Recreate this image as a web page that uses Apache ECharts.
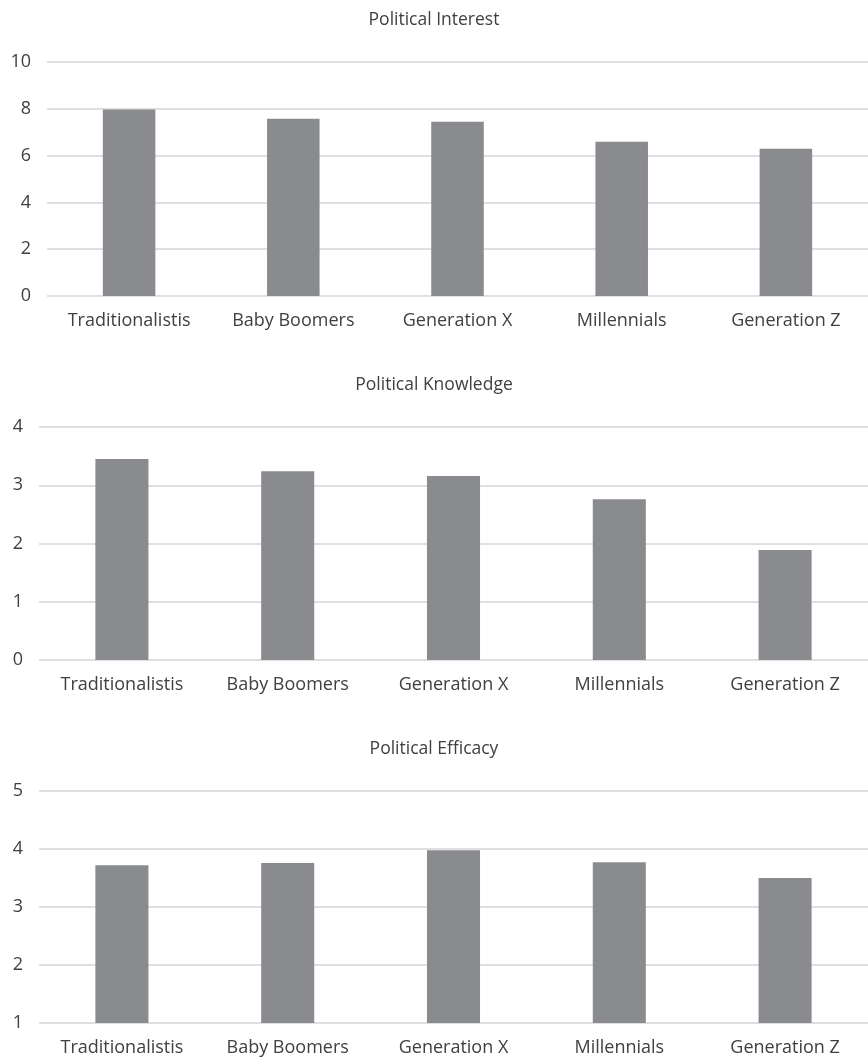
<!DOCTYPE html>
<html><head><meta charset="utf-8">
<script src="https://cdn.jsdelivr.net/npm/echarts@6/dist/echarts.min.js"></script>
<style>html,body{margin:0;padding:0;background:#fff}#c{width:868px;height:1057px}</style>
</head><body><div id="c"></div>
<script>
const categories = ["Traditionalistis", "Baby Boomers", "Generation X", "Millennials", "Generation Z"];
const chartTitles = ["Political Interest", "Political Knowledge", "Political Efficacy"];
const interest = [7.97, 7.58, 7.45, 6.59, 6.29];
const knowledge = [3.45, 3.24, 3.16, 2.76, 1.89];
const efficacy = [3.72, 3.76, 3.98, 3.77, 3.50];
const yMin = [0, 0, 1];
const yMax = [10, 4, 5];
const yStep = [2, 1, 1];
const seriesData = [interest, knowledge, efficacy];

const FONT = "Open Sans";
const TXT = "#404040";
const grids = [
  {left: 47, width: 826, top: 62, height: 234},
  {left: 39, width: 835, top: 427, height: 233},
  {left: 39, width: 835, top: 791, height: 233}
];
const chart = echarts.init(document.getElementById('c'));
chart.setOption({
  animation: false,
  backgroundColor: '#fff',
  title: chartTitles.map((t, i) => ({
    text: t, left: 'center', top: grids[i].top - 54, padding: 0,
    textStyle: {fontFamily: FONT, fontSize: 17.5, fontWeight: 'normal', color: TXT, lineHeight: 24}
  })),
  grid: grids,
  xAxis: grids.map((g, i) => ({
    type: 'category', gridIndex: i, data: categories,
    axisLine: {show: false}, axisTick: {show: false},
    axisLabel: {fontFamily: FONT, fontSize: 18, color: TXT, margin: 16, interval: 0}
  })),
  yAxis: grids.map((g, i) => ({
    type: 'value', gridIndex: i, min: yMin[i], max: yMax[i], interval: yStep[i],
    axisLine: {show: false}, axisTick: {show: false},
    axisLabel: {fontFamily: FONT, fontSize: 18, color: TXT, margin: 16},
    splitLine: {lineStyle: {color: '#d4d4d4', width: 1.5}}
  })),
  series: seriesData.map((d, i) => ({
    type: 'bar', xAxisIndex: i, yAxisIndex: i, data: d, barWidth: '32%',
    itemStyle: {color: '#8a8b8e'}
  }))
});
</script></body></html>
